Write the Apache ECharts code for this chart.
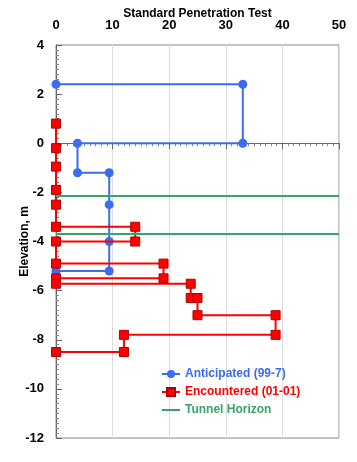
<!DOCTYPE html>
<html><head><meta charset="utf-8">
<script src="https://cdn.jsdelivr.net/npm/echarts@6/dist/echarts.min.js"></script>
<style>html,body{margin:0;padding:0;background:#fff}#c{width:357px;height:462px}</style>
</head><body><div id="c"></div>
<script>
const anticipatedSPT  = [0, 33, 33, 3.8, 3.8, 9.4, 9.4, 9.4, 9.4, 0];
const anticipatedElev = [2.4, 2.4, 0, 0, -1.2, -1.2, -2.5, -4.0, -5.2, -5.2];
const encounteredSPT  = [0, 0, 0, 0, 0, 0, 14, 14, 0, 0, 19, 19, 0, 0, 23.8, 23.8, 25, 25, 38.8, 38.8, 12, 12, 0];
const encounteredElev = [0.8, -0.2, -0.95, -1.9, -2.5, -3.4, -3.4, -4.0, -4.0, -4.9, -4.9, -5.5, -5.5, -5.72, -5.72, -6.3, -6.3, -7.0, -7.0, -7.8, -7.8, -8.5, -8.5];
const tunnelLevels = [-2.15, -3.7];
const seriesNames = ['Anticipated (99-7)', 'Encountered (01-01)', 'Tunnel Horizon'];
const colors = ['#3c6cf0', '#ff0000', '#3aa36a'];

const FONT = 'Liberation Sans';
const pair = (xs, ys) => xs.map((x, i) => [x, ys[i]]);

const chart = echarts.init(document.getElementById('c'), null, {renderer: 'canvas'});
chart.setOption({
  animation: false,
  backgroundColor: '#fff',
  grid: {left: 56, right: 18, top: 45, bottom: 24, show: true, borderColor: '#888', borderWidth: 1,
         containLabel: false, outerBoundsMode: 'none'},
  xAxis: {
    type: 'value', position: 'top', min: 0, max: 50, interval: 10,
    name: 'Standard Penetration Test', nameLocation: 'middle', nameGap: 25, nameMoveOverlap: false,
    nameTextStyle: {fontFamily: FONT, fontWeight: 'bold', fontSize: 12, color: '#000'},
    axisLine: {show: true, lineStyle: {color: '#666'}},
    axisTick: {show: true, inside: true, length: 6, lineStyle: {color: '#666'}},
    minorTick: {show: true, splitNumber: 10, length: 3, lineStyle: {color: '#888'}},
    axisLabel: {fontFamily: FONT, fontWeight: 'bold', fontSize: 13, color: '#000', margin: 13},
    splitLine: {show: true, lineStyle: {color: '#ddd', width: 1}}
  },
  yAxis: {
    type: 'value', min: -12, max: 4, interval: 2,
    name: 'Elevation, m', nameLocation: 'middle', nameGap: 25, nameRotate: 90, nameMoveOverlap: false,
    nameTextStyle: {fontFamily: FONT, fontWeight: 'bold', fontSize: 12, color: '#000'},
    axisLine: {show: true, lineStyle: {color: '#666'}},
    axisTick: {show: true, inside: true, length: 6, lineStyle: {color: '#666'}},
    minorTick: {show: true, splitNumber: 10, length: 3, lineStyle: {color: '#888'}},
    axisLabel: {fontFamily: FONT, fontWeight: 'bold', fontSize: 13, color: '#000', margin: 12},
    splitLine: {show: false}
  },
  legend: {
    orient: 'vertical', left: 156, top: 363, itemWidth: 18, itemHeight: 10, itemGap: 6,
    textStyle: {fontFamily: FONT, fontWeight: 'bold', fontSize: 12},
    data: seriesNames.map((n, i) => i === 2
      ? {name: n, icon: 'path://M0,9 L18,9 L18,11 L0,11 Z', textStyle: {color: colors[i]}}
      : {name: n, textStyle: {color: colors[i]}})
  },
  series: [
    {
      name: seriesNames[0], type: 'line', data: pair(anticipatedSPT, anticipatedElev),
      symbol: 'circle', symbolSize: 9, color: colors[0],
      lineStyle: {width: 2, color: colors[0]}, itemStyle: {color: colors[0]}, z: 3
    },
    {
      name: seriesNames[1], type: 'line', data: pair(encounteredSPT, encounteredElev),
      symbol: 'rect', symbolSize: 9, color: colors[1],
      lineStyle: {width: 2, color: colors[1]}, itemStyle: {color: colors[1], borderColor: '#b00000', borderWidth: 1}, z: 4
    },
    {
      name: seriesNames[2], type: 'line', data: [], symbol: 'none', color: colors[2],
      lineStyle: {width: 2, color: colors[2]}, itemStyle: {color: colors[2]},
      markLine: {
        silent: true, symbol: 'none', label: {show: false},
        lineStyle: {type: 'solid', width: 2, color: colors[2]},
        data: tunnelLevels.map(v => ({yAxis: v}))
      }, z: 2
    }
  ]
});
</script></body></html>
